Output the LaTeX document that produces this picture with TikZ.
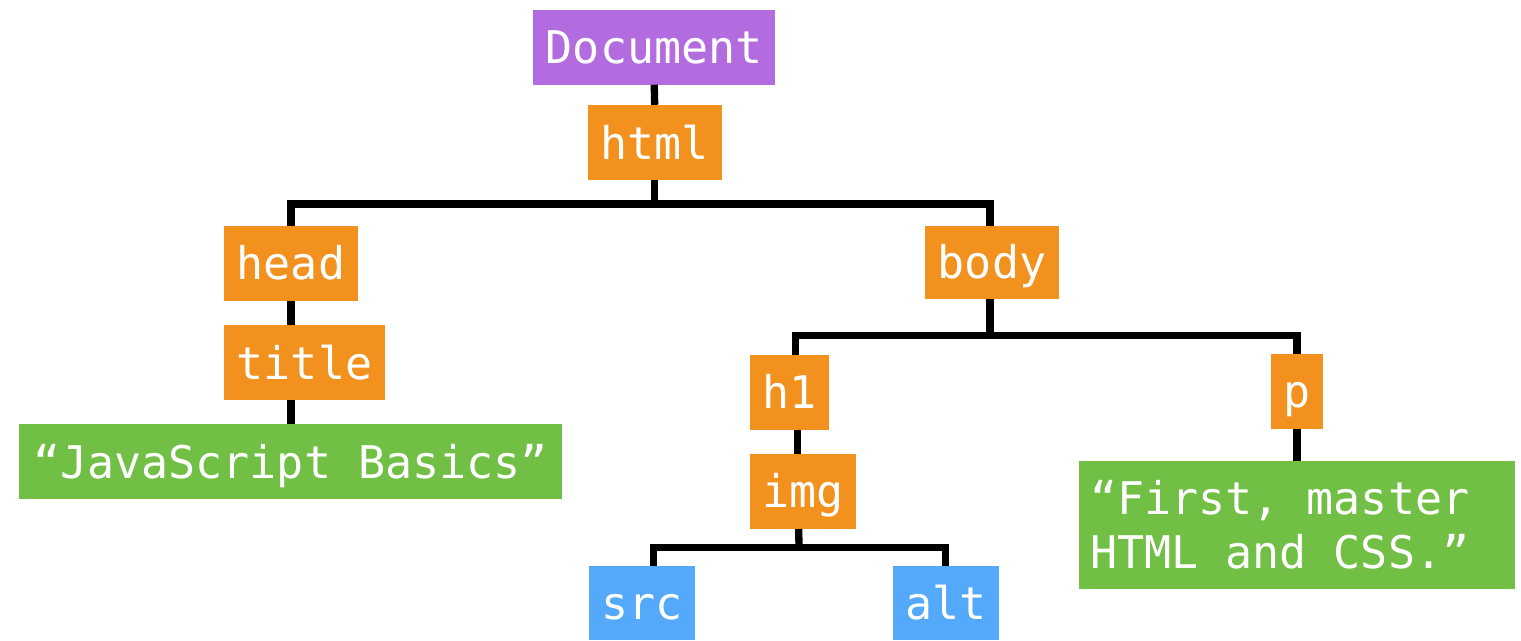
\documentclass[tikz,border=0pt]{standalone}
\usepackage{fontspec}
\setmainfont{DejaVu Sans Mono}
\setmonofont{DejaVu Sans Mono}
\definecolor{cpurple}{RGB}{179,107,224}
\definecolor{corange}{RGB}{242,145,30}
\definecolor{cgreen}{RGB}{113,191,68}
\definecolor{cblue}{RGB}{85,169,250}
\tikzset{
  box/.style={rectangle, inner sep=0pt, text=white, font=\ttfamily\fontsize{45}{54}\selectfont, text height=33pt, text depth=0pt, minimum height=75pt},
  docbox/.style={box, fill=cpurple},
  tagbox/.style={box, fill=corange},
  txtbox/.style={box, fill=cgreen},
  attbox/.style={box, fill=cblue},
  conn/.style={draw=black, line width=7.3pt, line join=miter}
}
\begin{document}
\begin{tikzpicture}[x=1pt,y=-1pt]
\useasboundingbox (0,0) rectangle (1521,640);
% nodes
\node[docbox, minimum width=242.5pt, minimum height=74.5pt] (doc) at (654.2,47.3) {Document};
\node[tagbox, minimum width=134pt] (html) at (654.7,142.5) {html};
\node[tagbox, minimum width=134pt] (head) at (291,263.2) {head};
\node[tagbox, minimum width=134pt, minimum height=73pt] (body) at (992,262.4) {body};
\node[tagbox, minimum width=161pt] (title) at (304.5,362.5) {title};
\node[txtbox, minimum width=543pt] (js) at (290.5,461.5) {“JavaScript Basics”};
\node[tagbox, minimum width=79pt] (h1) at (789.2,392.3) {h1};
\node[tagbox, minimum width=52pt] (p) at (1297,391.3) {p};
\node[tagbox, minimum width=106pt] (img) at (802.7,491.3) {img};
\node[attbox, minimum width=106pt, minimum height=74pt] (src) at (641.8,603) {src};
\node[attbox, minimum width=106pt, minimum height=74pt] (alt) at (945.8,603) {alt};
\node[txtbox, text height=, text depth=, minimum width=436pt, minimum height=128.3pt, align=left] (para) at (1297,525.1) {\makebox[414pt][l]{“First, master}\\HTML and CSS.”};
% bar coordinates
\coordinate (b1) at (654.7,204);
\coordinate (b2) at (990,335.5);
\coordinate (b3) at (799,547.5);
% connectors
\draw[conn] (doc.south) -- (html.north);
\draw[conn] (html.south) -- (b1);
\draw[conn] (head.north) |- (b1) -| ([xshift=-2pt]body.north);
\draw[conn] (head.south) -- (head.south |- title.north);
\draw[conn] (js.north -| head.south) -- (title.south -| head.south);
\draw[conn] ([xshift=-2pt]body.south) -- (b2);
\draw[conn] ([xshift=6pt]h1.north) |- (b2) -| (p.north);
\draw[conn] ([xshift=8pt]h1.south) -- ([xshift=8pt]h1.south |- img.north);
\draw[conn] ([xshift=-4pt]img.south) -- (b3);
\draw[conn] ([xshift=12pt]src.north) |- (b3) -| (alt.north);
\draw[conn] (p.south) -- (para.north);
\end{tikzpicture}
\end{document}
